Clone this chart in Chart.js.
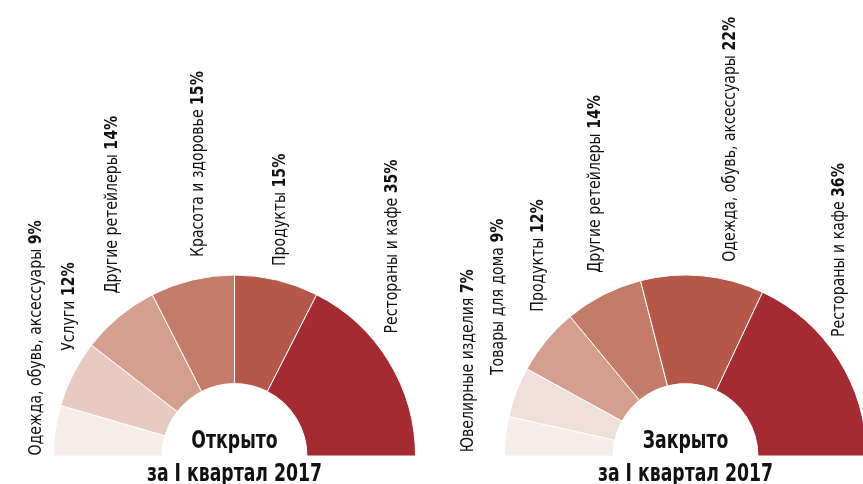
<!DOCTYPE html>
<html>
<head>
<meta charset="utf-8">
<script src="https://cdn.jsdelivr.net/npm/chart.js@4.4.1/dist/chart.umd.min.js"></script>
<style>
  html, body { margin: 0; padding: 0; background: #fff; }
  #wrap { position: relative; width: 863px; height: 484px; overflow: hidden; }
  #wrap canvas { position: absolute; left: 0; top: 0; }
</style>
</head>
<body>
<div id="wrap">
  <canvas id="openChart" width="863" height="484"></canvas>
  <canvas id="closedChart" width="863" height="484"></canvas>
</div>
<script>
// data: share of new / closed stores by category, Q1 2017
var openLabels = ['Одежда, обувь, аксессуары', 'Услуги', 'Другие ретейлеры', 'Красота и здоровье', 'Продукты', 'Рестораны и кафе']
var openValues = [9, 12, 14, 15, 15, 35]
var closedLabels = ['Ювелирные изделия', 'Товары для дома', 'Продукты', 'Другие ретейлеры', 'Одежда, обувь, аксессуары', 'Рестораны и кафе']
var closedValues = [7, 9, 12, 14, 22, 36]

var openColors = ['#f6ece8', '#e8cbc0', '#d49f8f', '#c47c6a', '#b5584a', '#a52b33']
var closedColors = ['#f6ece8', '#f0e0da', '#d49f8f', '#c47c6a', '#b5584a', '#a52b33']

var FONT = '"DejaVu Sans Condensed", "Liberation Sans Narrow", sans-serif'

// vertical labels, placed at the outer middle of each slice and nudged a bit
var sideLabels = {
    id: 'sideLabels',
    afterDatasetsDraw(chart, args, opts) {
        var ctx = chart.ctx
        var meta = chart.getDatasetMeta(0)
        var labels = chart.data.labels
        var values = chart.data.datasets[0].data
        meta.data.forEach((arc, i) => {
            var p = arc.getProps(['x', 'y', 'startAngle', 'endAngle', 'outerRadius'], true)
            var mid = (p.startAngle + p.endAngle) / 2
            var px = p.x + Math.cos(mid) * p.outerRadius + opts.shift[i][0]
            var py = p.y + Math.sin(mid) * p.outerRadius + opts.shift[i][1]
            ctx.save()
            ctx.translate(px, py)
            ctx.rotate(-Math.PI / 2)
            ctx.scale(0.87, 1)   // squeeze, the original face is condensed
            ctx.fillStyle = '#111'
            ctx.textBaseline = 'middle'
            ctx.textAlign = 'left'
            ctx.font = '18px ' + FONT
            var txt = labels[i] + ' '
            ctx.fillText(txt, 0, 0)
            var w = ctx.measureText(txt).width
            ctx.font = 'bold 18px ' + FONT
            ctx.fillText(values[i] + '%', w, 0)
            ctx.restore()
        })
    }
}

var centerText = {
    id: 'centerText',
    afterDatasetsDraw(chart, args, opts) {
        var ctx = chart.ctx
        var arc = chart.getDatasetMeta(0).data[0]
        ctx.save()
        ctx.translate(arc.x, arc.y)
        ctx.scale(0.8, 1)
        ctx.fillStyle = '#111'
        ctx.textAlign = 'center'
        ctx.textBaseline = 'alphabetic'
        ctx.font = 'bold 24px ' + FONT
        ctx.fillText(opts.title, 0, -8)
        ctx.fillText(opts.sub, 0, 25)
        ctx.restore()
    }
}

function makeHalf(id, labels, values, colors, pad, shift, title) {
    return new Chart(id, {
        type: 'doughnut',
        data: {
            labels: labels,
            datasets: [{
                data: values,
                backgroundColor: colors,
                borderColor: '#ffffff',
                borderWidth: 1
            }]
        },
        options: {
            responsive: false,
            animation: false,
            rotation: -90,
            circumference: 180,
            cutout: '40%',
            radius: 181,
            layout: { padding: pad },
            plugins: {
                legend: { display: false },
                tooltip: { enabled: false },
                sideLabels: { shift: shift },
                centerText: { title: title, sub: 'за I квартал 2017' }
            }
        },
        plugins: [sideLabels, centerText]
    })
}

makeHalf('openChart', openLabels, openValues, openColors,
    { left: 53.5, right: 447.5, top: 275, bottom: 28 },
    [[-19, 25], [-4, -23], [-7, -23], [6, -23], [4, -14], [4, -28]],
    'Открыто')

makeHalf('closedChart', closedLabels, closedValues, closedColors,
    { left: 508, right: 0, top: 275, bottom: 28 },
    [[-37, 16], [-18, -17], [-8, -29], [-8, -22], [28, -14], [1, -22]],
    'Закрыто')
</script>
</body>
</html>
